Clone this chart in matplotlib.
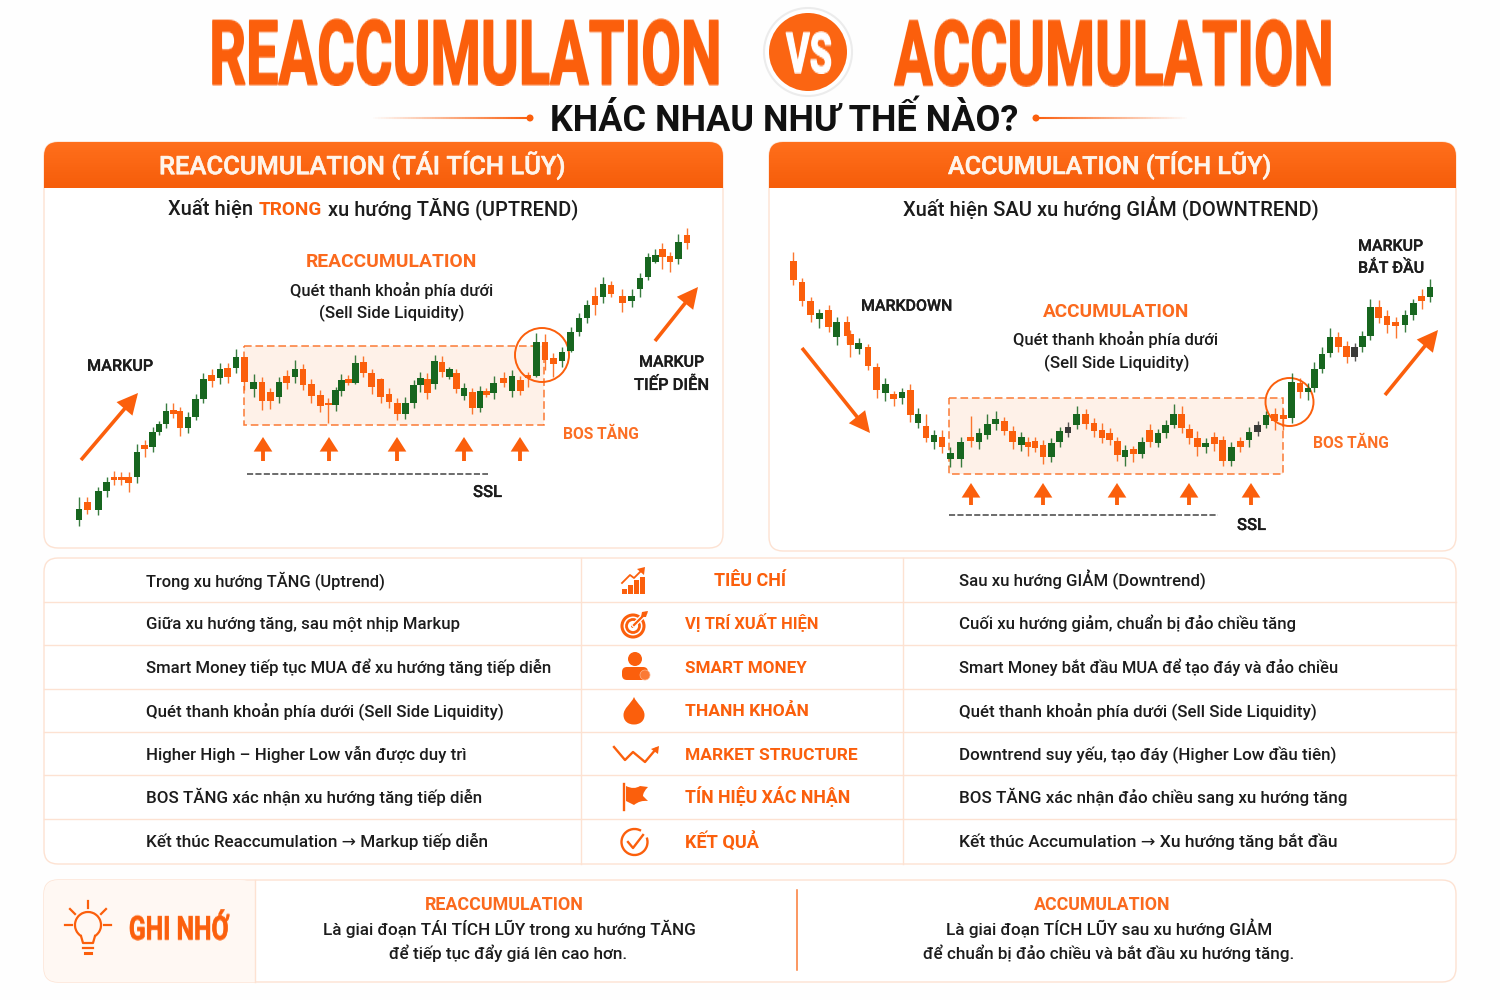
import numpy as np
import matplotlib
matplotlib.use("Agg")
from matplotlib import pyplot as plt
from matplotlib import patheffects as pe
from matplotlib.patches import Circle, FancyArrowPatch, FancyBboxPatch, PathPatch, Polygon, Rectangle, Arc
from matplotlib.path import Path
from matplotlib.collections import LineCollection

plt.rcParams['font.family'] = ['Roboto', 'DejaVu Sans']

ORANGE = '#fb5f0c'
GREEN = '#17661f'
DARK = '#1c1c1c'
EDGE = '#fde2d2'
SIDE_COLOR = {'O': '#fb5f0c', 'G': '#17661f', 'D': '#3a3a38'}

# candles: time and price levels (levels grow downwards)
left_time = [57, 82, 115, 140, 162, 184, 206, 231, 254, 278,
             297, 318, 340, 360, 384, 407, 430, 455, 480, 503,
             528, 553, 581, 606, 631, 657, 680, 705, 729, 754,
             781, 805, 827, 844, 865, 886, 910, 935, 962, 987,
             1012, 1036, 1061, 1081, 1102, 1124, 1146, 1168, 1189, 1212,
             1237, 1260, 1279, 1301, 1331, 1356, 1381, 1404, 1429, 1455,
             1480, 1506, 1532, 1557, 1581, 1605, 1629, 1653, 1687, 1715,
             1740, 1764, 1786, 1807, 1830, 1855, 1881]
left_high = [830, 832, 800, 770, 752, 755, 755, 672, 660, 620,
             603, 550, 550, 560, 575, 523, 460, 448, 430, 430,
             388, 410, 463, 472, 505, 472, 450, 420, 432, 478,
             510, 535, 500, 462, 465, 405, 408, 448, 475, 505,
             535, 530, 480, 455, 458, 405, 408, 440, 447, 488,
             505, 497, 505, 468, 455, 450, 468, 455, 340, 342,
             398, 382, 322, 280, 240, 200, 170, 183, 208, 208,
             160, 100, 88, 68, 95, 42, 25]
left_top = [866, 845, 813, 785, 772, 772, 772, 695, 675, 637,
            612, 572, 570, 573, 590, 537, 477, 466, 447, 445,
            412, 412, 485, 487, 517, 485, 469, 447, 447, 492,
            526, 550, 511, 479, 477, 428, 426, 460, 477, 523,
            548, 548, 495, 475, 476, 424, 425, 448, 460, 505,
            517, 514, 512, 490, 473, 468, 480, 465, 365, 365,
            415, 395, 337, 293, 255, 227, 193, 195, 228, 227,
            175, 112, 105, 88, 108, 67, 45]
left_bot = [900, 870, 870, 812, 780, 780, 788, 772, 687, 682,
            637, 612, 582, 623, 623, 590, 537, 482, 473, 472,
            445, 487, 507, 542, 543, 530, 490, 472, 495, 528,
            558, 556, 556, 512, 490, 490, 460, 500, 532, 547,
            583, 582, 550, 495, 518, 492, 457, 472, 507, 527,
            563, 563, 526, 520, 490, 512, 512, 475, 468, 420,
            433, 423, 392, 337, 294, 255, 232, 222, 250, 244,
            207, 172, 125, 112, 127, 116, 68]
left_low = [918, 882, 885, 830, 795, 795, 815, 788, 712, 697,
            645, 625, 595, 648, 640, 600, 550, 502, 492, 488,
            458, 510, 530, 570, 567, 548, 508, 490, 510, 550,
            575, 610, 572, 528, 495, 492, 472, 522, 548, 565,
            600, 597, 563, 515, 537, 507, 470, 477, 520, 540,
            583, 577, 532, 537, 502, 530, 526, 500, 472, 450,
            470, 440, 395, 348, 310, 285, 250, 232, 275, 262,
            230, 180, 130, 147, 157, 132, 88]
left_side = list('GOGGOOOGOG'
                 'GGOOGGGOGO'
                 'GOGOOGOGOO'
                 'OOGGOGOOOO'
                 'OGGGOGOGOG'
                 'OGOGOGOOGO'
                 'OGGGGOGOOG'
                 'GGGOOGO')

right_time = [40, 66, 92, 118, 146, 170, 201, 211, 236, 264,
              290, 316, 341, 366, 391, 414, 438, 462, 486, 511,
              542, 572, 597, 622, 647, 673, 698, 724, 744, 765,
              789, 814, 839, 864, 890, 917, 942, 966, 989, 1012,
              1035, 1060, 1085, 1109, 1134, 1157, 1181, 1205, 1228, 1252,
              1277, 1303, 1328, 1354, 1381, 1407, 1433, 1458, 1484, 1510,
              1535, 1560, 1584, 1603, 1626, 1650, 1675, 1700, 1724, 1747,
              1771, 1796, 1821, 1847, 1875, 1900, 1925, 1950]
right_high = [37, 115, 172, 208, 195, 232, 228, 270, 293, 313,
              370, 413, 452, 443, 432, 505, 522, 570, 570, 620,
              590, 527, 565, 522, 514, 532, 557, 575, 590, 592,
              600, 595, 560, 545, 498, 508, 535, 550, 565, 590,
              615, 618, 592, 553, 567, 540, 493, 498, 553, 573,
              595, 575, 588, 605, 590, 560, 542, 513, 505, 507,
              398, 415, 430, 365, 322, 265, 275, 303, 310, 272,
              178, 180, 210, 230, 210, 177, 148, 118]
right_top = [63, 125, 183, 220, 211, 247, 247, 283, 310, 320,
             380, 432, 462, 456, 451, 522, 557, 585, 592, 640,
             607, 590, 578, 552, 538, 544, 572, 590, 605, 604,
             614, 608, 574, 560, 522, 521, 549, 569, 580, 602,
             629, 628, 606, 570, 580, 554, 522, 522, 568, 593,
             610, 592, 601, 620, 603, 575, 555, 525, 522, 525,
             427, 429, 444, 388, 343, 292, 290, 318, 322, 288,
             200, 200, 228, 247, 226, 190, 167, 140]
right_bot = [120, 183, 225, 237, 262, 292, 287, 315, 327, 378,
             450, 460, 478, 473, 525, 550, 593, 605, 622, 656,
             656, 604, 606, 584, 552, 573, 607, 616, 620, 624,
             650, 650, 607, 580, 556, 553, 574, 595, 601, 646,
             650, 643, 642, 607, 610, 580, 554, 565, 593, 621,
             620, 612, 662, 662, 621, 601, 575, 555, 542, 536,
             535, 457, 455, 443, 387, 338, 320, 350, 350, 320,
             288, 234, 255, 257, 255, 226, 182, 172]
right_low = [135, 197, 247, 263, 275, 316, 310, 352, 342, 390,
             473, 483, 497, 492, 545, 563, 605, 628, 640, 682,
             682, 620, 627, 597, 570, 585, 627, 632, 647, 637,
             673, 665, 620, 592, 567, 568, 590, 610, 615, 662,
             678, 667, 655, 622, 622, 595, 565, 578, 612, 647,
             640, 632, 678, 678, 635, 620, 588, 565, 570, 570,
             548, 475, 480, 455, 400, 352, 335, 370, 362, 335,
             300, 250, 280, 293, 275, 240, 207, 187]
right_side = list('OOOGOGOOGO'
                  'OGOGOGOGOG'
                  'GOGGGOOGOO'
                  'OGGDGOOOOO'
                  'GOGOGGGOOO'
                  'GOOGOGDGOO'
                  'GOGGGGOODG'
                  'GOOOGGOG')

# table rows
left_rows = ['Trong xu hướng TĂNG (Uptrend)',
             'Giữa xu hướng tăng, sau một nhịp Markup',
             'Smart Money tiếp tục MUA để xu hướng tăng tiếp diễn',
             'Quét thanh khoản phía dưới (Sell Side Liquidity)',
             'Higher High – Higher Low vẫn được duy trì',
             'BOS TĂNG xác nhận xu hướng tăng tiếp diễn',
             'Kết thúc Reaccumulation → Markup tiếp diễn']
left_ends = [385, 459, 550, 505, 467, 480, 490]
mid_rows = ['TIÊU CHÍ', 'VỊ TRÍ XUẤT HIỆN', 'SMART MONEY', 'THANH KHOẢN',
            'MARKET STRUCTURE', 'TÍN HIỆU XÁC NHẬN', 'KẾT QUẢ']
mid_starts = [714, 685, 685, 685, 685, 685, 685]
mid_ends = [786, 818, 806, 808, 857, 850, 759]
right_rows = ['Sau xu hướng GIẢM (Downtrend)',
              'Cuối xu hướng giảm, chuẩn bị đảo chiều tăng',
              'Smart Money bắt đầu MUA để tạo đáy và đảo chiều',
              'Quét thanh khoản phía dưới (Sell Side Liquidity)',
              'Downtrend suy yếu, tạo đáy (Higher Low đầu tiên)',
              'BOS TĂNG xác nhận đảo chiều sang xu hướng tăng',
              'Kết thúc Accumulation → Xu hướng tăng bắt đầu']
right_ends = [1204, 1295, 1339, 1316, 1336, 1347, 1338]
row_y = [580, 623, 667, 710, 754, 797, 841]

fig = plt.figure(figsize=(15, 10), dpi=100, facecolor='#fefefe')
ax = fig.add_axes([0, 0, 1, 1])
ax.set_axis_off()
rend = fig.canvas.get_renderer()


def put(s, x0, x1, yc, color=DARK, weight='medium', extra=0):
    # font size comes from the width the text has in the picture
    t = ax.text(x0, yc, s, color=color, fontweight=weight, fontsize=20, ha='left', va='baseline', zorder=8)
    fs = 20 * (x1 - x0) / t.get_window_extent(rend).width
    t.set_fontsize(fs)
    t.set_y(yc + 0.36 * fs * 100 / 72)
    if extra:
        t.set_path_effects([pe.withStroke(linewidth=extra, foreground=color)])
    return t


def stretch(ratio):
    def flt(img, dpi):
        h, w = img.shape[:2]
        nh = int(round(h * ratio))
        ys = np.linspace(0, h - 1, nh)
        out = np.zeros((nh, w, 4))
        for col in range(w):
            for c in range(4):
                out[:, col, c] = np.interp(ys, np.arange(h), img[:, col, c])
        return out, 0, -(nh - h) // 2
    return flt


def put_tall(s, x0, x1, yc, cap, color=ORANGE, family='Liberation Sans Narrow', extra=1.0):
    # condensed display lettering: real text sized to its width, made taller after it is drawn
    t = ax.text((x0 + x1) / 2, yc, s, color=color, fontweight='bold', fontsize=20,
                family=[family, 'Roboto', 'DejaVu Sans'], ha='center', va='baseline', zorder=8)
    fs = 20 * (x1 - x0) / t.get_window_extent(rend).width
    t.set_fontsize(fs)
    small_cap = 0.72 * fs * 100 / 72
    t.set_y(yc + small_cap / 2)
    if extra:
        t.set_path_effects([pe.withStroke(linewidth=extra, foreground=color)])
    t.set_agg_filter(stretch(cap / small_cap))
    return t


def round_top(x0, x1, y0, y1, r):
    verts = [(x0, y1), (x0, y0 + r), (x0, y0), (x0 + r, y0), (x1 - r, y0), (x1, y0), (x1, y0 + r), (x1, y1), (x0, y1)]
    codes = [Path.MOVETO, Path.LINETO, Path.CURVE3, Path.CURVE3, Path.LINETO, Path.CURVE3, Path.CURVE3, Path.LINETO, Path.CLOSEPOLY]
    return Path(verts, codes)


def box(x0, y0, x1, y1, r=14, fc='white', ec=EDGE, lw=1.0, z=1):
    p = FancyBboxPatch((x0, y0), x1 - x0, y1 - y0, boxstyle='round,pad=0,rounding_size=%d' % r,
                       fc=fc, ec=ec, lw=lw, zorder=z)
    ax.add_patch(p)
    return p


def arrow(p0, p1, lw=2.6, head=18, hl=0.6, hw=0.3):
    ax.add_patch(FancyArrowPatch(p0, p1, arrowstyle='-|>,head_length=%g,head_width=%g' % (hl, hw),
                                 mutation_scale=head, lw=lw, color=ORANGE, shrinkA=0, shrinkB=0,
                                 joinstyle='miter', capstyle='butt', zorder=6))


def fade_line(x0, x1, y, start_alpha, end_alpha):
    xs = np.linspace(x0, x1, 60)
    segs = [[(xs[i], y), (xs[i + 1], y)] for i in range(59)]
    cols = [(0.98, 0.37, 0.05, a) for a in np.linspace(start_alpha, end_alpha, 59)]
    ax.add_collection(LineCollection(segs, colors=cols, linewidths=1.5, zorder=3))


def candles(rect, ylim, time, high, top, bot, low, side):
    # one axes per chart, 3 units per picture pixel
    a = fig.add_axes([rect[0] / 1500, 1 - rect[3] / 1000, (rect[2] - rect[0]) / 1500, (rect[3] - rect[1]) / 1000])
    a.set_axis_off()
    a.patch.set_alpha(0)
    cols = [SIDE_COLOR[k] for k in side]
    a.vlines(time, high, low, colors=cols, lw=1.0, alpha=0.85)
    a.bar(time, np.array(bot) - np.array(top), bottom=top, width=20, color=cols)
    a.set_xlim(0, 1980)
    a.set_ylim(ylim, 0)
    return a


# ---- title
put_tall('REACCUMULATION', 210, 721, 52, 64)
put_tall('ACCUMULATION', 895, 1333, 52, 64)
ax.add_patch(Circle((808, 52), 44, fc='white', ec='#ececec', lw=1.5, zorder=4))
ax.add_patch(Circle((808, 52), 39, fc='#fb6512', zorder=5))
put_tall('VS', 786, 832, 52, 40, color='white', extra=0.8)
put('KHÁC NHAU NHƯ THẾ NÀO?', 550, 1017, 118, color='#111111', weight='bold')
fade_line(370, 530, 118, 0, 1)
fade_line(1036, 1190, 118, 1, 0)
ax.add_patch(Circle((530, 118), 3.5, fc=ORANGE, zorder=4))
ax.add_patch(Circle((1036, 118), 3.5, fc=ORANGE, zorder=4))

# ---- chart panels
for x0, x1, y1, label, lx0, lx1 in [(44, 723, 548, 'REACCUMULATION (TÁI TÍCH LŨY)', 159, 565),
                                    (769, 1456, 551, 'ACCUMULATION (TÍCH LŨY)', 948, 1271)]:
    box(x0, 142, x1, y1)
    hdr = PathPatch(round_top(x0, x1, 142, 188, 14), fc='none', ec='none', zorder=2)
    ax.add_patch(hdr)
    grad = np.linspace(0, 1, 40).reshape(-1, 1)
    im = ax.imshow(grad, extent=(x0, x1, 188, 142), aspect='auto', zorder=2,
                   cmap=matplotlib.colors.LinearSegmentedColormap.from_list('h', ['#ff6f1c', '#f65d0a']))
    im.set_clip_path(hdr)
    put(label, lx0, lx1, 165, color='#fff4ea', extra=0.35)

put('Xuất hiện', 168, 253, 208)
put('TRONG', 259, 322, 208, color=ORANGE, weight='bold')
put('xu hướng TĂNG (UPTREND)', 328, 577, 208)
put('Xuất hiện SAU xu hướng GIẢM (DOWNTREND)', 903, 1318, 208)

# range boxes, behind the candles
for x0, y0, x1, y1 in [(244, 346, 544, 425), (949, 398, 1283, 474)]:
    ax.add_patch(Rectangle((x0, y0), x1 - x0, y1 - y0, fc='#fef1e8', ec='#fb7a35', lw=1.1, ls=(0, (5, 2.5)), zorder=2))

candles((60, 220, 720, 540), 960, left_time, left_high, left_top, left_bot, left_low, left_side)
candles((780, 240, 1440, 540), 900, right_time, right_high, right_top, right_bot, right_low, right_side)

put('REACCUMULATION', 306, 477, 260, color='#fb6a1e', weight='bold')
put('Quét thanh khoản phía dưới', 290, 493, 290)
put('(Sell Side Liquidity)', 319, 464, 312)
put('MARKUP', 87, 153, 365, extra=0.2)
put('MARKUP', 639, 704, 361, extra=0.2)
put('TIẾP DIỄN', 634, 709, 384, extra=0.2)
put('BOS TĂNG', 563, 639, 433, color='#fb6f25', weight='bold')
put('SSL', 473, 502, 491, extra=0.2)
put('MARKDOWN', 861, 952, 305, extra=0.2)
put('ACCUMULATION', 1043, 1189, 310, color='#fb6a1e', weight='bold')
put('Quét thanh khoản phía dưới', 1013, 1218, 339)
put('(Sell Side Liquidity)', 1044, 1189, 362)
put('MARKUP', 1358, 1423, 245, extra=0.2)
put('BẮT ĐẦU', 1358, 1424, 267, extra=0.2)
put('BOS TĂNG', 1313, 1389, 442, color='#fb6f25', weight='bold')
put('SSL', 1237, 1266, 524, extra=0.2)

for p0, p1 in [((81, 460), (138, 393)), ((655, 341), (698, 287)), ((802, 348), (870, 433)), ((1385, 395), (1438, 330))]:
    arrow(p0, p1)
for xs, y0, y1 in [([263, 329, 397, 464, 520], 461, 437), ([971, 1043, 1117, 1189, 1251], 505, 483)]:
    for x in xs:
        arrow((x, y0), (x, y1), lw=2.8, head=13, hl=0.5, hw=0.32)
for x0, x1, y in [(247, 488, 474), (949, 1218, 515)]:
    ax.plot([x0, x1], [y, y], color='#444444', lw=1.1, ls=(0, (4, 1.5)), zorder=3)
for c, r in [((542, 355), 27), ((1289.5, 402), 24)]:
    ax.add_patch(Circle(c, r, fc='none', ec=ORANGE, lw=1.4, zorder=7))

# ---- comparison table
box(44, 558, 1456, 864)
for y in [602, 645, 689, 732, 775, 819]:
    ax.plot([44, 1456], [y, y], color=EDGE, lw=1, zorder=2)
for x in [581, 903]:
    ax.plot([x, x], [558, 864], color=EDGE, lw=1, zorder=2)
for i in range(7):
    put(left_rows[i], 146, left_ends[i], row_y[i])
    put(mid_rows[i], mid_starts[i], mid_ends[i], row_y[i], color=ORANGE, weight='bold')
    put(right_rows[i], 959, right_ends[i], row_y[i])

# icon: bars and rising arrow
for x0, x1, t in [(622, 626.5, 589), (628, 632.5, 585), (634, 638.5, 580), (640, 645, 577)]:
    ax.add_patch(Rectangle((x0, t), x1 - x0, 594 - t, fc=ORANGE, zorder=5))
ax.plot([622, 630, 634, 641], [583, 575, 578, 571], color=ORANGE, lw=1.3, zorder=5)
ax.add_patch(Polygon([(645, 567), (644, 575), (637, 569)], fc=ORANGE, zorder=5))
# icon: target
ax.add_patch(Circle((633, 626), 11, fc='none', ec=ORANGE, lw=2.2, zorder=5))
ax.add_patch(Circle((633, 626), 6.5, fc='none', ec=ORANGE, lw=2, zorder=5))
ax.add_patch(Circle((633, 626), 2, fc=ORANGE, zorder=5))
ax.plot([634, 646], [625, 613], color='white', lw=3.5, zorder=5)
ax.plot([634, 646], [625, 613], color=ORANGE, lw=1.6, zorder=6)
ax.add_patch(Polygon([(648, 611), (642, 612), (641, 617), (646, 617)], fc=ORANGE, zorder=6))
# icon: person
ax.add_patch(Circle((635, 659), 7, fc=ORANGE, zorder=5))
ax.add_patch(FancyBboxPatch((622, 667), 26, 13, boxstyle='round,pad=0,rounding_size=5', fc=ORANGE, ec='none', zorder=5))
ax.add_patch(Circle((645, 675), 5, fc='#fb7a35', ec='#fdb68f', lw=0.5, zorder=6))
# icon: drop
drop = Path([(634, 697), (637, 704), (644.5, 708), (644.5, 715), (644.5, 721), (640, 724.5), (634, 724.5),
             (628, 724.5), (623.5, 721), (623.5, 715), (623.5, 708), (631, 704), (634, 697)],
            [Path.MOVETO] + [Path.CURVE4] * 12)
ax.add_patch(PathPatch(drop, fc=ORANGE, ec='none', zorder=5))
# icon: zigzag
ax.plot([614, 625, 633, 645, 656], [747, 760, 752, 762, 749], color=ORANGE, lw=1.7, zorder=5)
ax.add_patch(Polygon([(659, 746), (658, 754), (651, 749)], fc=ORANGE, zorder=5))
# icon: flag
ax.plot([624, 624], [784, 810], color=ORANGE, lw=1.7, zorder=5)
flag = Path([(626, 786), (634, 790), (640, 786), (648, 787), (643, 792), (643, 796), (648, 801),
             (640, 800), (634, 805), (626, 801), (626, 786)],
            [Path.MOVETO] + [Path.CURVE3] * 2 + [Path.LINETO] + [Path.CURVE3] * 2 + [Path.LINETO] + [Path.CURVE3] * 2 + [Path.LINETO, Path.CLOSEPOLY])
ax.add_patch(PathPatch(flag, fc=ORANGE, ec='none', zorder=5))
# icon: check
ax.add_patch(Arc((634.5, 842), 26, 26, theta1=-20, theta2=300, ec=ORANGE, lw=1.7, zorder=5))
ax.plot([628, 633, 643], [842, 848, 835], color=ORANGE, lw=1.7, zorder=5)

# ---- note box
box(44, 880, 1456, 982)
box(44, 880, 255, 982, fc='#fff8f3', ec='none', z=1.5)
ax.add_patch(Rectangle((200, 880.5), 55, 101, fc='#fff8f3', ec='none', zorder=1.6))
ax.plot([255, 255], [880, 982], color=EDGE, lw=1, zorder=2)
ax.plot([797, 797], [890, 970], color='#fb7a35', lw=1.1, zorder=2)
ax.add_patch(Arc((88, 925), 26, 26, theta1=120, theta2=60, ec=ORANGE, lw=1.6, zorder=5))
ax.plot([81, 83, 93, 95], [936, 943, 943, 936], color=ORANGE, lw=1.6, zorder=5)
ax.plot([83, 93], [948, 948], color=ORANGE, lw=1.6, zorder=5)
ax.plot([85, 91], [953, 953], color=ORANGE, lw=2.2, zorder=5)
for (a0, b0), (a1, b1) in [((88, 901), (88, 908)), ((70, 909), (75, 914)), ((106, 909), (101, 914)),
                           ((65, 925), (72, 925)), ((104, 925), (111, 925))]:
    ax.plot([a0, a1], [b0, b1], color=ORANGE, lw=1.6, zorder=5)
put_tall('GHI NHỚ', 129, 229, 927, 24, family='Roboto', extra=0.4)

put('REACCUMULATION', 425, 584, 904, color='#fb6a1e', weight='bold')
put('Là giai đoạn TÁI TÍCH LŨY trong xu hướng TĂNG', 323, 695, 929)
put('để tiếp tục đẩy giá lên cao hơn.', 389, 628, 953)
put('ACCUMULATION', 1034, 1170, 904, color='#fb6a1e', weight='bold')
put('Là giai đoạn TÍCH LŨY sau xu hướng GIẢM', 946, 1273, 929)
put('để chuẩn bị đảo chiều và bắt đầu xu hướng tăng.', 923, 1296, 953)

ax.set_xlim(0, 1500)
ax.set_ylim(1000, 0)
fig.savefig('out.png', dpi=100, facecolor=fig.get_facecolor())
